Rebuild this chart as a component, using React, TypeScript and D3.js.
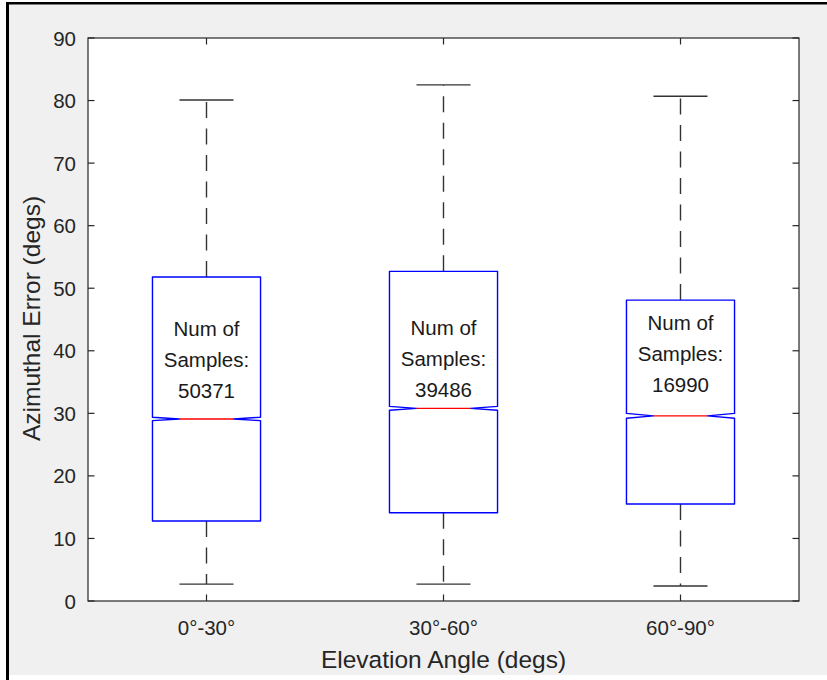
import React from "react";
import * as d3 from "d3";

// Elevation bins and their box statistics (azimuthal error, degrees)
const categories = ["0°-30°", "30°-60°", "60°-90°"];
const whiskerLow = [2.7, 2.7, 2.4];
const q1 = [12.8, 14.1, 15.5];
const median = [29.1, 30.8, 29.6];
const q3 = [51.8, 52.7, 48.1];
const whiskerHigh = [80.1, 82.5, 80.7];
const sampleCounts = [50371, 39486, 16990];
// vertical position (degs) of the middle line of each count annotation
const labelY = [38.7, 38.8, 39.6];
const yTicks = [0, 10, 20, 30, 40, 50, 60, 70, 80, 90];

const W = 827;
const H = 680;
const plot = { left: 88, right: 799, top: 38, bottom: 601 };
const axisColor = "#262626";
const font = "'Liberation Sans', Arial, Helvetica, sans-serif";

export default function App() {
  const x = d3.scaleLinear().domain([0.5, 3.5]).range([plot.left, plot.right]);
  const y = d3.scaleLinear().domain([0, 90]).range([plot.bottom, plot.top]);
  const unit = x(1) - x(0);
  const halfW = 0.228 * unit;
  const capHalf = halfW / 2;
  const tickLen = 6.5;

  return (
    <svg
      width={W}
      height={H}
      style={{ position: "absolute", left: 0, top: 0 }}
      fontFamily={font}
    >
      <rect x={0} y={0} width={W} height={H} fill="#ffffff" />
      <rect x={9} y={4.5} width={W - 9} height={675 - 4.5} fill="#f0f0f0" />
      <line x1={7.5} y1={3} x2={7.5} y2={H} stroke="#000" strokeWidth={3} />
      <line x1={6} y1={3.2} x2={W} y2={3.2} stroke="#000" strokeWidth={2.6} />

      <rect
        x={plot.left}
        y={plot.top}
        width={plot.right - plot.left}
        height={plot.bottom - plot.top}
        fill="#ffffff"
      />

      {/* boxes */}
      {categories.map((c, i) => {
        const cx = x(i + 1);
        const n = sampleCounts[i];
        const notch = (1.57 * (q3[i] - q1[i])) / Math.sqrt(n);
        const l = cx - halfW;
        const r = cx + halfW;
        const inset = halfW / 2;
        const path = d3.path();
        path.moveTo(l, y(q1[i]));
        path.lineTo(l, y(median[i] - notch));
        path.lineTo(l + inset, y(median[i]));
        path.lineTo(l, y(median[i] + notch));
        path.lineTo(l, y(q3[i]));
        path.lineTo(r, y(q3[i]));
        path.lineTo(r, y(median[i] + notch));
        path.lineTo(r - inset, y(median[i]));
        path.lineTo(r, y(median[i] - notch));
        path.lineTo(r, y(q1[i]));
        path.closePath();
        return (
          <g key={c}>
            <line
              x1={cx}
              x2={cx}
              y1={y(q3[i])}
              y2={y(whiskerHigh[i])}
              stroke="#333"
              strokeWidth={1.4}
              strokeDasharray="16,10.5"
            />
            <line
              x1={cx}
              x2={cx}
              y1={y(q1[i])}
              y2={y(whiskerLow[i])}
              stroke="#333"
              strokeWidth={1.4}
              strokeDasharray="16,10.5"
            />
            <line
              x1={cx - capHalf}
              x2={cx + capHalf}
              y1={y(whiskerHigh[i])}
              y2={y(whiskerHigh[i])}
              stroke="#333"
              strokeWidth={1.4}
            />
            <line
              x1={cx - capHalf}
              x2={cx + capHalf}
              y1={y(whiskerLow[i])}
              y2={y(whiskerLow[i])}
              stroke="#333"
              strokeWidth={1.4}
            />
            <path
              d={path.toString()}
              fill="none"
              stroke="#0000ff"
              strokeWidth={1.4}
              strokeLinejoin="round"
            />
            <line
              x1={l + inset}
              x2={r - inset}
              y1={y(median[i])}
              y2={y(median[i])}
              stroke="#ff0000"
              strokeWidth={1.4}
            />
            <text
              textAnchor="middle"
              fontSize={20.5}
              fill="#1a1a1a"
              dominantBaseline="central"
            >
              <tspan x={cx} y={y(labelY[i]) - 31}>
                Num of
              </tspan>
              <tspan x={cx} y={y(labelY[i])}>
                Samples:
              </tspan>
              <tspan x={cx} y={y(labelY[i]) + 31}>
                {String(n)}
              </tspan>
            </text>
          </g>
        );
      })}

      {/* axes frame */}
      <rect
        x={plot.left}
        y={plot.top}
        width={plot.right - plot.left}
        height={plot.bottom - plot.top}
        fill="none"
        stroke={axisColor}
        strokeWidth={1.2}
      />

      {yTicks.map((t) => (
        <g key={t}>
          <line
            x1={plot.left}
            x2={plot.left + tickLen}
            y1={y(t)}
            y2={y(t)}
            stroke={axisColor}
            strokeWidth={1.2}
          />
          <line
            x1={plot.right}
            x2={plot.right - tickLen}
            y1={y(t)}
            y2={y(t)}
            stroke={axisColor}
            strokeWidth={1.2}
          />
          <text
            x={plot.left - 12}
            y={y(t)}
            textAnchor="end"
            dominantBaseline="central"
            fontSize={20.5}
            fill={axisColor}
          >
            {t}
          </text>
        </g>
      ))}

      {categories.map((c, i) => (
        <g key={c}>
          <line
            x1={x(i + 1)}
            x2={x(i + 1)}
            y1={plot.bottom}
            y2={plot.bottom - tickLen}
            stroke={axisColor}
            strokeWidth={1.2}
          />
          <line
            x1={x(i + 1)}
            x2={x(i + 1)}
            y1={plot.top}
            y2={plot.top + tickLen}
            stroke={axisColor}
            strokeWidth={1.2}
          />
          <text
            x={x(i + 1)}
            y={627.5}
            textAnchor="middle"
            dominantBaseline="central"
            fontSize={20.5}
            fill={axisColor}
          >
            {c}
          </text>
        </g>
      ))}

      <text
        x={(plot.left + plot.right) / 2}
        y={659}
        textAnchor="middle"
        dominantBaseline="central"
        fontSize={24.5}
        fill={axisColor}
      >
        Elevation Angle (degs)
      </text>
      <text
        transform={`translate(31, ${(plot.top + plot.bottom) / 2 - 1}) rotate(-90)`}
        textAnchor="middle"
        dominantBaseline="central"
        fontSize={24.5}
        fill={axisColor}
      >
        Azimuthal Error (degs)
      </text>
    </svg>
  );
}
